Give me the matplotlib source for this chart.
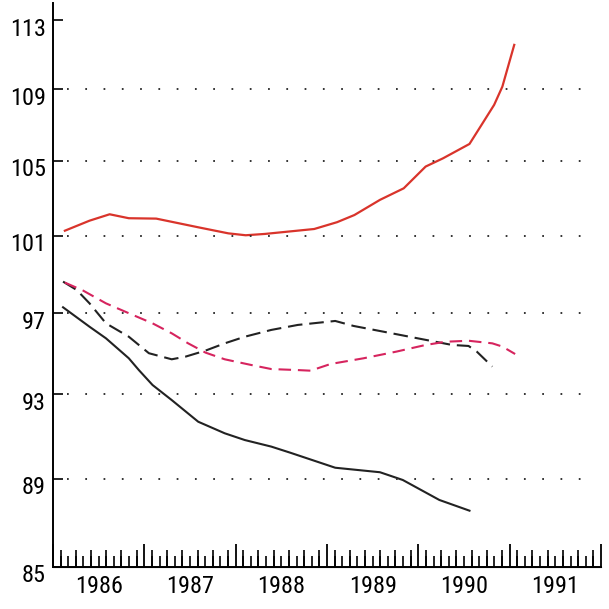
import matplotlib
matplotlib.use("Agg")
import matplotlib.pyplot as plt
import matplotlib.transforms as mtransforms
from matplotlib.ticker import NullLocator
import numpy as np

plt.rcParams['font.family'] = ['Liberation Sans Narrow', 'Roboto Condensed', 'Liberation Sans', 'DejaVu Sans']

# DATA (decimal years, index values)
red_solid_x = [1986.13, 1986.40, 1986.62, 1986.83, 1987.13, 1987.38, 1987.59, 1987.92,
               1988.11, 1988.32, 1988.57, 1988.86, 1989.11, 1989.30, 1989.58, 1989.84,
               1990.08, 1990.27, 1990.56, 1990.68, 1990.83, 1990.92, 1991.05]
red_solid = [101.27, 101.80, 102.14, 101.93, 101.91, 101.66, 101.45, 101.13,
             101.03, 101.10, 101.22, 101.36, 101.72, 102.10, 102.91, 103.53,
             104.71, 105.16, 105.95, 106.91, 108.13, 109.16, 111.56]

black_solid_x = [1986.11, 1986.40, 1986.58, 1986.83, 1986.94, 1987.09, 1987.30, 1987.59,
                 1987.88, 1988.10, 1988.39, 1988.60, 1989.09, 1989.58, 1989.83, 1990.23, 1990.56]
black_solid = [97.31, 96.33, 95.75, 94.76, 94.18, 93.45, 92.72, 91.68,
               91.13, 90.81, 90.50, 90.21, 89.51, 89.30, 88.94, 88.02, 87.53]

black_dashed_x = [1986.11, 1986.26, 1986.40, 1986.58, 1986.83, 1987.05, 1987.30, 1987.45,
                  1987.67, 1987.88, 1988.10, 1988.39, 1988.68, 1989.09, 1989.29, 1989.62,
                  1990.05, 1990.37, 1990.55, 1990.64, 1990.81]
black_dashed = [98.62, 98.19, 97.51, 96.50, 95.83, 95.01, 94.71, 94.84,
                95.14, 95.50, 95.83, 96.17, 96.42, 96.62, 96.37, 96.08,
                95.70, 95.42, 95.37, 95.09, 94.35]

red_dashed_x = [1986.13, 1986.33, 1986.58, 1986.83, 1987.09, 1987.30, 1987.48, 1987.67,
                1987.88, 1988.17, 1988.39, 1988.68, 1988.82, 1989.04, 1989.40, 1989.76,
                1990.08, 1990.30, 1990.55, 1990.81, 1990.92, 1991.06]
red_dashed = [98.57, 98.16, 97.51, 97.01, 96.50, 96.00, 95.50, 95.04,
              94.71, 94.43, 94.23, 94.18, 94.15, 94.48, 94.76, 95.09,
              95.42, 95.58, 95.63, 95.50, 95.34, 94.97]

years = [1986, 1987, 1988, 1989, 1990, 1991]
y_ticks = [85, 89, 93, 97, 101, 105, 109, 113]
grid_vals = [89, 93, 97, 101, 105, 109]

# FIGURE
fig = plt.figure(figsize=(6.09, 6.09), dpi=100)
ax = fig.add_axes([53/609, 42/609, 548/609, 564/609])

ax.plot(red_solid_x, red_solid, color='#d9342b', lw=1.6)
ax.plot(black_solid_x, black_solid, color='#222222', lw=1.5)
ax.plot(black_dashed_x, black_dashed, color='#222222', lw=1.5, dashes=(7, 3.3))
ax.plot(red_dashed_x, red_dashed, color='#d6245e', lw=1.5, dashes=(6, 3.3))

# dotted grid
ax.hlines(grid_vals, 1986.157, 1991.93, colors='#333333', lw=1.4,
          linestyles=(0, (0.9, 8.5)))

ax.set_yscale('log')
ax.set_xlim(1986, 1986 + 548/92.3)
ax.set_ylim(85, 114.02)

ax.yaxis.set_minor_locator(NullLocator())
ax.set_yticks(y_ticks, [str(v) for v in y_ticks])
ax.tick_params(axis='y', direction='in', length=7.2, width=1.2, pad=5, labelsize=17.5)
off = mtransforms.ScaledTranslation(0, -4.5/72, fig.dpi_scale_trans)
for lab in ax.get_yticklabels():
    lab.set_transform(lab.get_transform() + off)

# x ticks: years major, months minor, odd months taller
months = np.arange(1986, 1992, 1/12)
ax.set_xticks(years + [1992])
ax.set_xticks(months, minor=True)
ax.set_xticklabels([])
ax.tick_params(axis='x', which='major', direction='in', length=16.5, width=1.3)
ax.tick_params(axis='x', which='minor', direction='in', length=7.9, width=1.2)
sec = ax.secondary_xaxis('bottom')
sec.set_xticks(months[1::2])
sec.tick_params(direction='in', length=12.2, width=1.2, labelbottom=False)

for y in years:
    ax.text(y + 0.5, -0.034, str(y), transform=ax.get_xaxis_transform(),
            ha='center', va='center', fontsize=17.5)

for s in ['top', 'right']:
    ax.spines[s].set_visible(False)
for s in ['left', 'bottom']:
    ax.spines[s].set_linewidth(1.4)

fig.savefig('out.png', dpi=100)
